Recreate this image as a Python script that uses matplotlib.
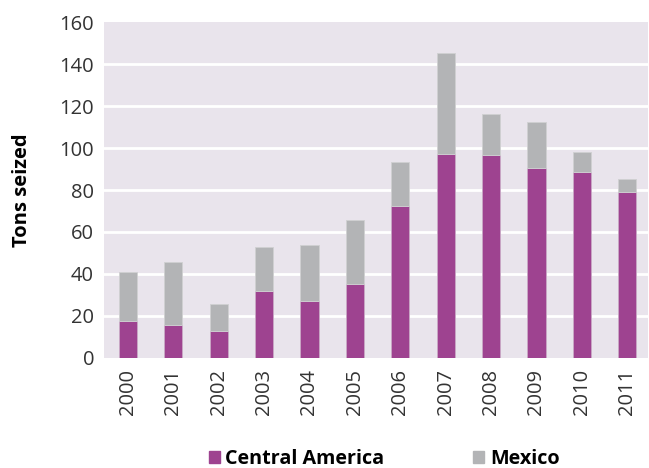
import matplotlib

matplotlib.use("Agg")
import matplotlib.pyplot as plt
from matplotlib.patches import Patch

years = ["2000", "2001", "2002", "2003", "2004", "2005",
         "2006", "2007", "2008", "2009", "2010", "2011"]
central_america = [17.4, 15.7, 12.8, 31.8, 27.0, 35.3, 72.3, 97.3, 96.8, 90.5, 88.7, 79.1]
totals = [40.7, 45.8, 25.6, 52.8, 53.9, 65.6, 93.5, 145.6, 116.1, 112.3, 98.1, 85.3]
mexico = [t - c for t, c in zip(totals, central_america)]

purple = "#9e4390"
grey = "#b3b4b6"
bg = "#e9e4ec"
text_col = "#333333"

plt.rcParams["font.family"] = ["Open Sans", "DejaVu Sans"]

fig = plt.figure(figsize=(6.49, 4.68), dpi=100)
ax = fig.add_axes([0.160, 0.236, 0.838, 0.716])
ax.set_facecolor(bg)

x = range(len(years))
ax.bar(x, central_america, width=0.40, color=purple, edgecolor="#c9a9c6", linewidth=0.6, zorder=3)
ax.bar(x, mexico, bottom=central_america, width=0.40, color=grey, edgecolor="#d0d0d2",
       linewidth=0.6, zorder=3)

ax.set_ylim(0, 160)
ax.set_xlim(-0.53, 11.45)
ax.set_yticks(range(0, 161, 20))
ax.set_xticks(list(x))
ax.set_xticklabels(years, rotation=90)
for yv in range(20, 160, 20):
    ax.axhline(yv, color="white", linewidth=2, zorder=1)

for s in ax.spines.values():
    s.set_visible(False)
ax.tick_params(length=0, labelsize=14.5, colors=text_col, pad=7)
ax.tick_params(axis="x", pad=8)
ax.set_ylabel("Tons seized", fontsize=14.5, fontweight="bold", color="black", labelpad=20)

handles = [Patch(color=purple, label="Central America"), Patch(color=grey, label="Mexico")]
fig.legend(handles=handles, loc="lower center", bbox_to_anchor=(0.592, -0.04), ncol=2,
           frameon=False, handlelength=0.55, handleheight=0.55, handletextpad=0.3,
           columnspacing=4.5, prop={"size": 14.2, "weight": "bold"})

fig.savefig("out.png", dpi=100)
